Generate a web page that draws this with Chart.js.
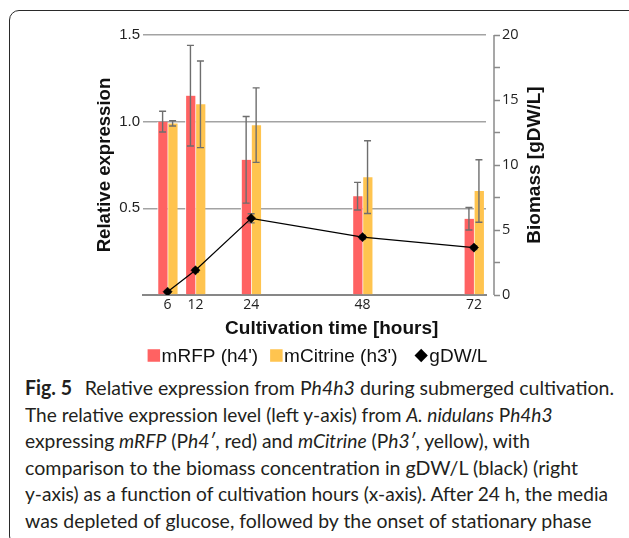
<!DOCTYPE html>
<html>
<head>
<meta charset="utf-8">
<script src="https://cdn.jsdelivr.net/npm/chart.js@4/dist/chart.umd.min.js"></script>
<style>
  html, body { margin: 0; padding: 0; background: #fff; width: 629px; height: 538px; overflow: hidden; }
  #frame { position: absolute; left: 9px; top: 10px; width: 660px; height: 536px; border: 1px solid #2a2a2a; border-radius: 10px; box-sizing: border-box; }
  #chart { position: absolute; left: 0; top: 0; }
  #caption { position: absolute; left: 25px; top: 374px; font-family: Lato, "Open Sans", sans-serif; font-size: 20px; line-height: 26.5px; color: #231f20; }
  #caption .ln { height: 26.5px; white-space: nowrap; }
  #caption .ln span.t { display: inline-block; transform-origin: 0 0; white-space: nowrap; }
  #caption b { font-weight: 700; margin-right: 8px; }
</style>
</head>
<body>
<div id="frame"></div>
<canvas id="chart" width="629" height="372"></canvas>
<div id="caption">
  <div class="ln"><span class="t" data-w="589"><b>Fig. 5</b> Relative expression from P<i>h4h3</i> during submerged cultivation.</span></div>
  <div class="ln"><span class="t" data-w="527.5">The relative expression level (left y-axis) from <i>A. nidulans</i> P<i>h4h3</i></span></div>
  <div class="ln"><span class="t" data-w="505">expressing <i>mRFP</i> (P<i>h4′</i>, red) and <i>mCitrine</i> (P<i>h3′</i>, yellow), with</span></div>
  <div class="ln"><span class="t" data-w="553">comparison to the biomass concentration in gDW/L (black) (right</span></div>
  <div class="ln"><span class="t" data-w="583">y-axis) as a function of cultivation hours (x-axis). After 24 h, the media</span></div>
  <div class="ln"><span class="t" data-w="566.5">was depleted of glucose, followed by the onset of stationary phase</span></div>
</div>
<script>
// ---- data ----
const hours = [6, 12, 24, 48, 72];
const mRFP = [1.00, 1.15, 0.78, 0.57, 0.44];
const mRFPErr = [0.06, 0.29, 0.25, 0.08, 0.065];
const mCitrine = [0.99, 1.10, 0.98, 0.68, 0.60];
const mCitrineErr = [0.015, 0.25, 0.215, 0.21, 0.18];
const biomass = [0.25, 1.9, 5.9, 4.45, 3.65];
const biomassErr = [0.1, 0.15, 0.35, 0.15, 0.15];
const seriesLabels = ["mRFP (h4')", "mCitrine (h3')", "gDW/L"];
const xTitle = "Cultivation time [hours]";
const yTitle = "Relative expression";
const y2Title = "Biomass [gDW/L]";

const RED = '#ff6262';
const YELLOW = '#ffc44f';
const ERR = '#6e6e6e';

function pts(vals) { return hours.map((h, i) => ({ x: h, y: vals[i] })); }

function drawErrors(chart, args) {
  const ds = chart.data.datasets[args.index];
  if (!ds.errors) return;
  const meta = args.meta;
  const ys = chart.scales[meta.yAxisID];
  const ctx = chart.ctx;
  ctx.save();
  ctx.strokeStyle = ERR;
  ctx.lineWidth = 1.4;
  meta.data.forEach((el, i) => {
    const v = ds.data[i].y, e = ds.errors[i];
    const x = el.x;
    const yt = ys.getPixelForValue(v + e), yb = ys.getPixelForValue(v - e);
    ctx.beginPath();
    ctx.moveTo(x, yt); ctx.lineTo(x, yb);
    ctx.moveTo(x - 3.5, yt); ctx.lineTo(x + 3.5, yt);
    ctx.moveTo(x - 3.5, yb); ctx.lineTo(x + 3.5, yb);
    ctx.stroke();
  });
  ctx.restore();
}

const errorBars = {
  id: 'errorBars',
  beforeDatasetDraw(chart, args) {
    if (chart.data.datasets[args.index].type === 'line') drawErrors(chart, args);
  },
  afterDatasetDraw(chart, args) {
    if (chart.data.datasets[args.index].type !== 'line') drawErrors(chart, args);
  }
};

const extras = {
  id: 'extras',
  afterDraw(chart) {
    const ctx = chart.ctx;
    const ca = chart.chartArea;
    const y2 = chart.scales.y2;
    ctx.save();
    // right axis line, offset from plot area
    ctx.strokeStyle = '#8a8a8a';
    ctx.lineWidth = 1.5;
    ctx.beginPath();
    ctx.moveTo(ca.right + 8, y2.getPixelForValue(20));
    ctx.lineTo(ca.right + 8, y2.getPixelForValue(0));
    ctx.stroke();

    // x title
    ctx.fillStyle = '#111';
    ctx.font = 'bold 19px "Liberation Sans", Arial, sans-serif';
    ctx.textAlign = 'center';
    ctx.textBaseline = 'middle';
    ctx.fillText(xTitle, 331.7, 328.5);

    // right title (reads bottom to top)
    ctx.save();
    ctx.translate(535, (y2.top + y2.bottom) / 2);
    ctx.rotate(-Math.PI / 2);
    ctx.fillText(y2Title, 0, 0);
    ctx.restore();

    // legend
    ctx.font = '19px "Liberation Sans", Arial, sans-serif';
    ctx.textAlign = 'left';
    ctx.textBaseline = 'alphabetic';
    const symW = [12.5, 12.5, 13.3];
    const gaps = [12, 17];
    const ds = chart.data.datasets;
    let total = 0;
    ds.forEach((d, i) => { total += symW[i] + 1.5 + ctx.measureText(d.label).width + (i < gaps.length ? gaps[i] : 0); });
    let x = 317.5 - total / 2;
    const cy = 355.5, base = 362;
    ds.forEach((d, i) => {
      if (d.type === 'line') {
        const cx = x + symW[i] / 2, r = symW[i] / 2;
        ctx.fillStyle = '#000';
        ctx.beginPath();
        ctx.moveTo(cx - r, cy); ctx.lineTo(cx, cy - r); ctx.lineTo(cx + r, cy); ctx.lineTo(cx, cy + r);
        ctx.closePath(); ctx.fill();
      } else {
        ctx.fillStyle = d.backgroundColor;
        ctx.fillRect(x, cy - symW[i] / 2, symW[i], symW[i]);
      }
      x += symW[i] + 1.5;
      ctx.fillStyle = '#111';
      ctx.fillText(d.label, x, base);
      x += ctx.measureText(d.label).width + (i < gaps.length ? gaps[i] : 0);
    });
    ctx.restore();
  }
};

const chart = new Chart(document.getElementById('chart'), {
  type: 'bar',
  data: {
    datasets: [
      { type: 'bar', label: seriesLabels[0], data: pts(mRFP), errors: mRFPErr, backgroundColor: RED,
        borderColor: '#ffffff', borderWidth: { left: 1, top: 0, right: 0, bottom: 0 }, barThickness: 10,
        xAxisID: 'x', yAxisID: 'y', order: 1 },
      { type: 'bar', label: seriesLabels[1], data: pts(mCitrine), errors: mCitrineErr, backgroundColor: YELLOW,
        borderColor: '#ffffff', borderWidth: { left: 1, top: 0, right: 0, bottom: 0 }, barThickness: 10,
        xAxisID: 'x', yAxisID: 'y', order: 1 },
      { type: 'line', label: seriesLabels[2], data: pts(biomass), errors: biomassErr, borderColor: '#000',
        borderWidth: 1.2, pointStyle: 'rectRot', pointRadius: 4.6, pointBackgroundColor: '#000',
        pointBorderColor: '#000', pointBorderWidth: 0.5, tension: 0, fill: false,
        xAxisID: 'x', yAxisID: 'y2', order: 0 }
    ]
  },
  options: {
    responsive: false,
    animation: false,
    devicePixelRatio: 1,
    layout: { padding: { left: 93.4, right: 0, top: 35, bottom: 0 } },
    plugins: { legend: { display: false }, tooltip: { enabled: false } },
    scales: {
      x: {
        type: 'linear', position: 'bottom', min: 0.7, max: 74.6, offset: false,
        afterBuildTicks: s => { s.ticks = hours.map(v => ({ value: v })); },
        afterFit: s => { s.height = 77; },
        grid: { display: false, drawTicks: false },
        border: { display: true, color: '#878787', width: 2 },
        ticks: { autoSkip: false, maxRotation: 0, padding: 2, color: '#222',
          font: { family: '"Open Sans", sans-serif', size: 14 }, callback: v => String(v) }
      },
      y: {
        type: 'linear', position: 'left', min: 0, max: 1.5,
        afterFit: s => { s.width = 143 - 93.4; },
        grid: { drawTicks: false, lineWidth: 1.5,
          color: c => (c.tick && c.tick.value === 0) ? 'rgba(0,0,0,0)' : '#a3a3a3' },
        border: { display: false },
        ticks: { stepSize: 0.5, padding: 3, color: '#222',
          font: { family: '"Liberation Sans", Arial, sans-serif', size: 15 },
          callback: v => v === 0 ? '' : v.toFixed(1) },
        title: { display: true, text: yTitle, color: '#111', padding: 0,
          font: { family: '"Liberation Sans", Arial, sans-serif', size: 18.6, weight: 'bold' } }
      },
      y2: {
        type: 'linear', position: 'right', min: 0, max: 20,
        afterFit: s => { s.width = 143; },
        grid: { drawOnChartArea: false, drawTicks: true, tickLength: 14, tickColor: '#8a8a8a', tickWidth: 1.5,
          tickBorderDash: [0, 8, 6.5, 100] },
        border: { display: false },
        ticks: { stepSize: 2.5, padding: 2, color: '#222',
          font: { family: '"Open Sans", sans-serif', size: 14.5 },
          callback: v => (v % 5 === 0) ? String(v) : '' }
      }
    }
  },
  plugins: [errorBars, extras]
});

function fitCaption() {
  document.querySelectorAll('#caption .t').forEach(el => {
    el.style.transform = 'none';
    const w = el.getBoundingClientRect().width;
    const target = parseFloat(el.dataset.w);
    if (w > 0) el.style.transform = 'scaleX(' + (target / w) + ')';
  });
}
fitCaption();
if (document.fonts && document.fonts.ready) document.fonts.ready.then(fitCaption);
</script>
</body>
</html>
